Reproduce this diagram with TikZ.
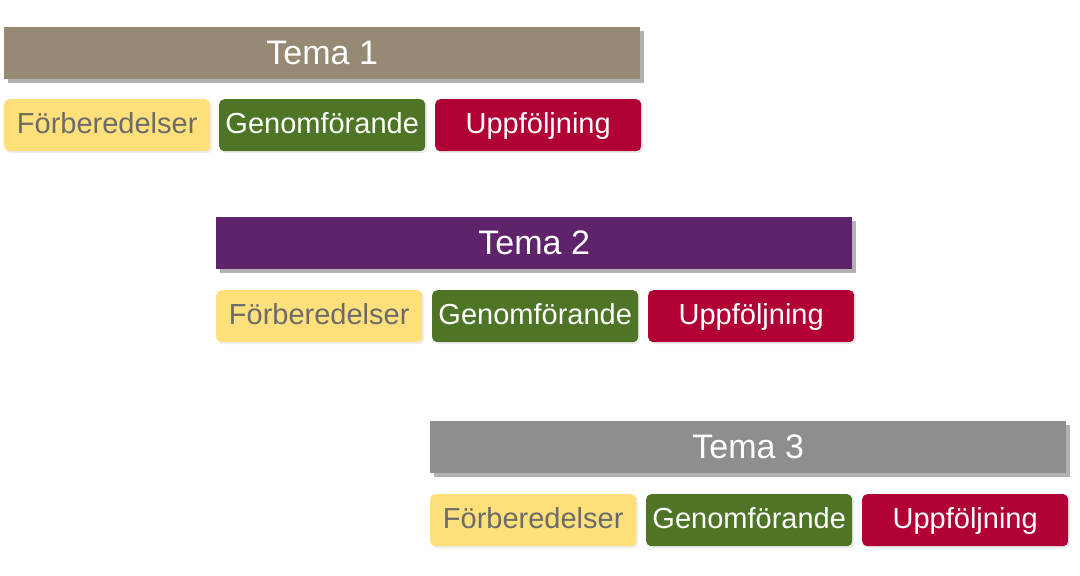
\documentclass[tikz,border=0pt]{standalone}
\usepackage{fontspec}
\setmainfont{Liberation Sans}
\usetikzlibrary{shadows}
\definecolor{tan}{HTML}{978A74}
\definecolor{purp}{HTML}{5E236B}
\definecolor{grayb}{HTML}{8E8E8E}
\definecolor{yel}{HTML}{FFE07A}
\definecolor{grn}{HTML}{4E7426}
\definecolor{rd}{HTML}{B00034}
\definecolor{ytext}{HTML}{6B6B6B}
\begin{document}
\begin{tikzpicture}[x=1pt,y=-1pt,
 bar/.style={minimum width=636pt,minimum height=52pt,inner sep=0,text=white,font=\fontsize{34}{36}\selectfont,drop shadow={shadow xshift=4pt,shadow yshift=-4pt,opacity=0.6}},
 box/.style={minimum width=206pt,minimum height=52pt,inner sep=0,text height=22pt,text depth=6pt,rounded corners=5pt,font=\fontsize{29}{31}\selectfont,drop shadow={shadow xshift=2pt,shadow yshift=-2pt,opacity=0.15}},
 prep/.style={box,fill=yel,text=ytext},
 exe/.style={box,fill=grn,text=white},
 fol/.style={box,fill=rd,text=white}]
\useasboundingbox (0,0) rectangle (1080,576);
\fill[white] (0,0) rectangle (1080,576);
\node[bar,fill=tan,anchor=north west] (t1) at (4,27) {Tema 1};
\node[prep,anchor=north west] (p1) at (4,99) {Förberedelser};
\node[exe,anchor=north west] (g1) at (219,99) {Genomförande};
\node[fol,anchor=north west] (u1) at (435,99) {Uppföljning};
\node[bar,fill=purp,anchor=north west] (t2) at (216,217) {Tema 2};
\node[prep,anchor=north west] (p2) at (216,290) {Förberedelser};
\node[exe,anchor=north west] (g2) at (432,290) {Genomförande};
\node[fol,anchor=north west] (u2) at (648,290) {Uppföljning};
\node[bar,fill=grayb,anchor=north west] (t3) at (430,421) {Tema 3};
\node[prep,anchor=north west] (p3) at (430,494) {Förberedelser};
\node[exe,anchor=north west] (g3) at (646,494) {Genomförande};
\node[fol,anchor=north west] (u3) at (862,494) {Uppföljning};
\end{tikzpicture}
\end{document}
